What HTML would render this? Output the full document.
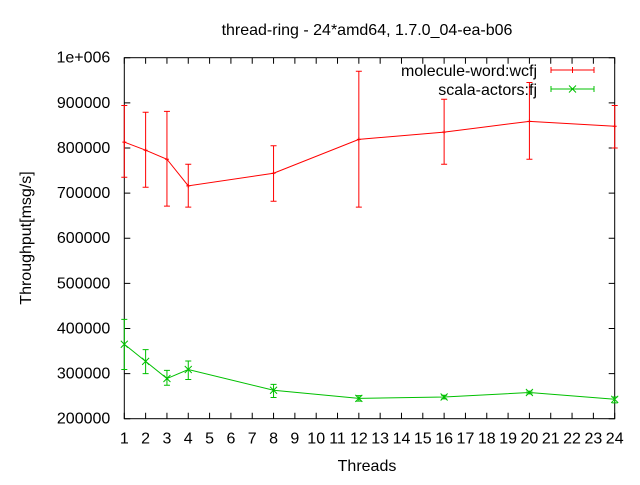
<!DOCTYPE html>
<html><head><meta charset="utf-8"><style>
body{margin:0;background:#fff}
svg text{font-family:"Liberation Sans",sans-serif;font-size:16px;fill:#000}
</style></head><body>
<svg id="chart" width="640" height="480" xmlns="http://www.w3.org/2000/svg">
<rect width="640" height="480" fill="#fff"/>
<text x="367" y="35" text-anchor="middle">thread-ring - 24*amd64, 1.7.0_04-ea-b06</text>
<text transform="translate(31,238) rotate(-90)" text-anchor="middle">Throughput[msg/s]</text>
<text x="367" y="471" text-anchor="middle">Threads</text>
<g id="axes"></g>
<g id="series"></g>
<g id="legend"></g>
</svg>
<script>
const threads=[1,2,3,4,8,12,16,20,24];
const wordVals=[813000,795000,775000,716000,744000,819000,835000,859000,848000];
const wordHi=[894000,879000,881000,764000,805000,970000,908000,945000,894000];
const wordLo=[735000,713000,671000,669000,682000,669000,764000,775000,800000];
const actorVals=[365000,327000,289000,309000,263000,245000,248000,258000,243000];
const actorHi=[420000,353000,307000,328000,276000,251000,252000,261000,248000];
const actorLo=[309000,300000,274000,287000,247000,239000,244000,255000,235000];
const yTicks=[200000,300000,400000,500000,600000,700000,800000,900000,1000000];
const yTickLabels=["200000","300000","400000","500000","600000","700000","800000","900000","1e+006"];
const xTicks=[1,2,3,4,5,6,7,8,9,10,11,12,13,14,15,16,17,18,19,20,21,22,23,24];

const L=124.3,R=614.7,T=57.7,B=418.7;
const X=v=>L+(v-1)/(24-1)*(R-L);
const Y=v=>B-(v-200000)/(1000000-200000)*(B-T);
const NS="http://www.w3.org/2000/svg";
function mk(tag,attrs,parent){const e=document.createElementNS(NS,tag);for(const k in attrs)e.setAttribute(k,attrs[k]);parent.appendChild(e);return e;}
const axes=document.getElementById('axes'),series=document.getElementById('series'),legend=document.getElementById('legend');
const frame=mk('rect',{x:L,y:T,width:R-L,height:B-T,fill:'none',stroke:'#000','stroke-width':1},axes);


yTicks.forEach((t,i)=>{
  const y=Y(t);
  mk('path',{d:`M${L},${y}h6M${R},${y}h-6`,stroke:'#000','stroke-width':1},axes);
  const tx=mk('text',{x:L-14,y:y+5,'text-anchor':'end'},axes);
  tx.textContent=yTickLabels[i];
  
  
});
xTicks.forEach(t=>{
  const x=X(t);
  mk('path',{d:`M${x},${B}v-6M${x},${T}v6`,stroke:'#000','stroke-width':1},axes);
  const tx=mk('text',{x:x,y:B+25,'text-anchor':'middle'},axes);
  tx.textContent=String(t);
  
  
});
function drawSeries(vals,hi,lo,color,marker,name){
  const g=mk('g',{},series);
  
  
  mk('polyline',{points:threads.map((t,i)=>X(t)+','+Y(vals[i])).join(' '),fill:'none',stroke:color,'stroke-width':1},g);
  threads.forEach((t,i)=>{
    const x=X(t),yh=Y(hi[i]),yl=Y(lo[i]),y=Y(vals[i]);
    const eb=mk('path',{d:`M${x},${yh}V${yl}M${x-3},${yh}h6M${x-3},${yl}h6`,stroke:color,'stroke-width':1},g);
    
    
    const d=marker==='x'?`M${x-3.5},${y-3.5}l7,7M${x-3.5},${y+3.5}l7,-7`:`M${x-2},${y}h4M${x},${y-2}v4`;
    const m=mk('path',{d:d,stroke:color,'stroke-width':1},g);
    
    
  });
}
drawSeries(wordVals,wordHi,wordLo,'#ff0000','+','series-molecule-word');
drawSeries(actorVals,actorHi,actorLo,'#00c000','x','series-scala-actors');
[['molecule-word:wcfj','#ff0000',70,'+'],['scala-actors:fj','#00c000',89,'x']].forEach(([lab,c,y,m])=>{
  const t=mk('text',{x:537,y:y+6,'text-anchor':'end'},legend);
  t.textContent=lab;
  
  
  mk('path',{d:`M551,${y}h43M551,${y-3}v6M594,${y-3}v6`,stroke:c,'stroke-width':1},legend);
  const x=572.5;
  mk('path',{d:m==='x'?`M${x-3.5},${y-3.5}l7,7M${x-3.5},${y+3.5}l7,-7`:`M${x},${y-3}v6`,stroke:c,'stroke-width':1},legend);
});
</script>
</body></html>
